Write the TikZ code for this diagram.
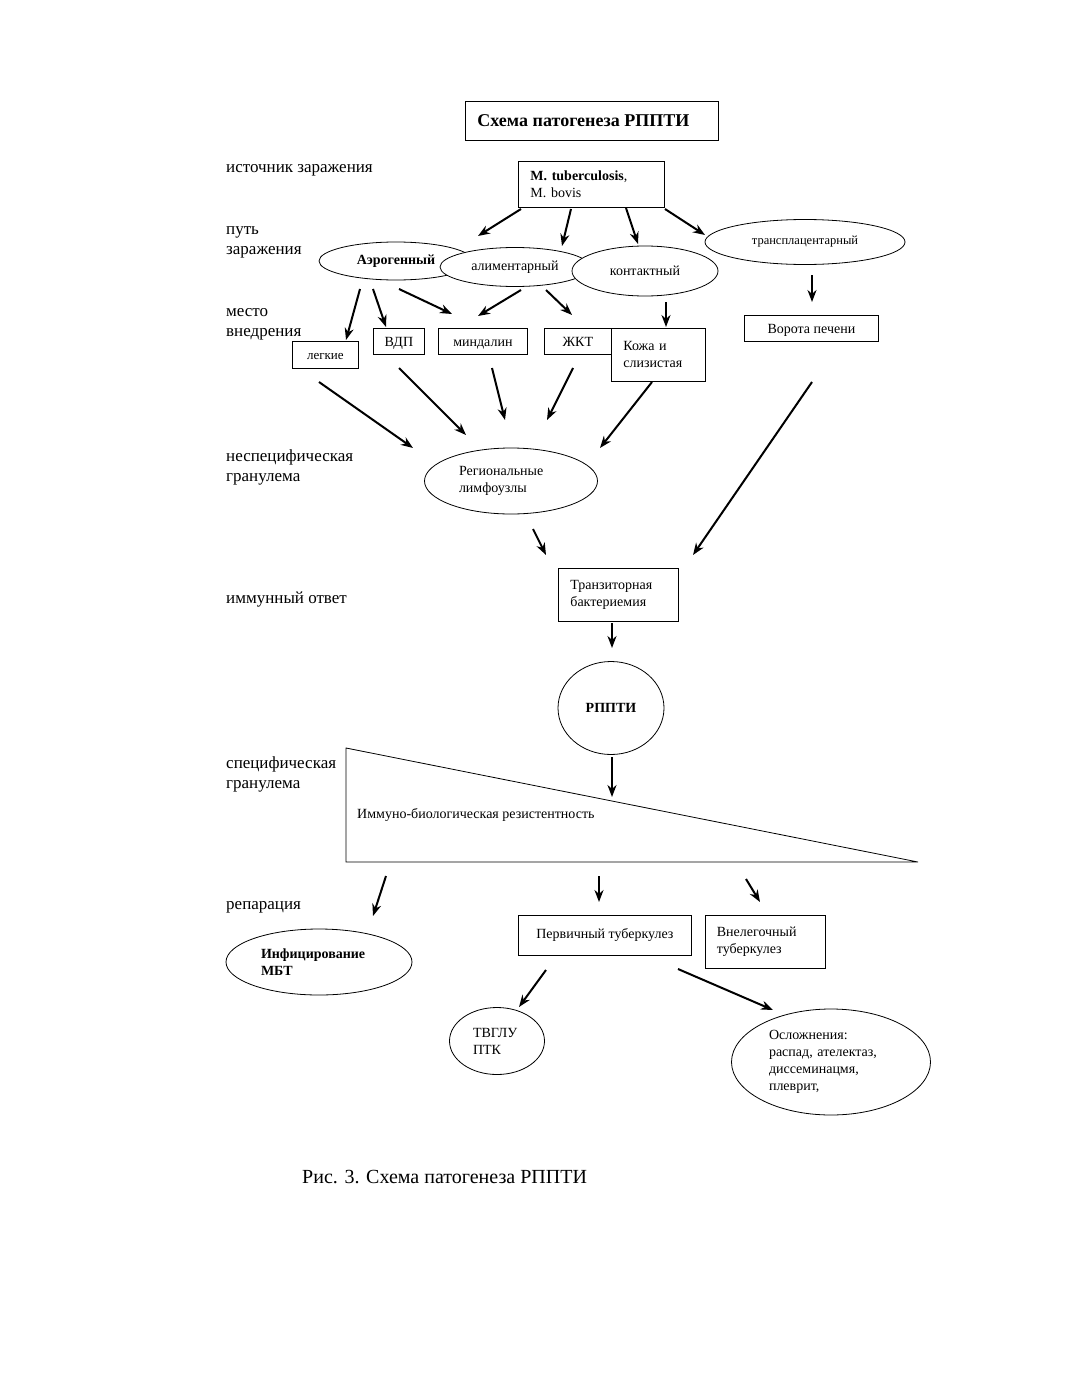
\documentclass[tikz,border=0pt]{standalone}
\usepackage{fontspec}
\setmainfont{Liberation Serif}
\usetikzlibrary{positioning, arrows, arrows.meta, shapes.geometric}
\newcommand{\pgnode}[4]{\node[#3, at={(#4)}] (#1) {#2};}
\newcommand{\pgarrow}[3]{\coordinate (#1s) at (#2); \coordinate (#1e) at (#3); \draw [pgedge] (#1s) -- (#1e);}
\newcommand{\lblfont}{\fontsize{17}{20}\selectfont}
\newcommand{\boxfont}{\fontsize{14}{17}\selectfont}

\begin{document}
\begin{tikzpicture}[x=1pt, y=-1pt,
  pgedge/.style={->, >={Stealth[length=12pt, width=9pt]}, line width=2pt},
  lbl/.style={anchor=west, inner sep=0pt, align=left, font=\lblfont},
  pgbox/.style={draw, line width=0.8pt, fill=white, anchor=north west, inner sep=0pt, align=left, font=\boxfont},
  onebox/.style={pgbox, text height=10pt, text depth=0pt},
  pgell/.style={draw, ellipse, line width=0.8pt, fill=white, inner sep=0pt, align=left, font=\boxfont}]
\useasboundingbox (0,0) rectangle (1071,1386);

% row labels on the left
\pgnode{lsrc}{источник заражения}{lbl}{226,170};
\pgnode{lway}{путь\\заражения}{lbl}{226,242};
\pgnode{lplace}{место\\внедрения}{lbl}{226,324};
\pgnode{lnonsp}{неспецифическая\\гранулема}{lbl}{226,467};
\pgnode{limm}{иммунный ответ}{lbl}{226,600};
\pgnode{lspec}{специфическая\\гранулема}{lbl}{226,774};
\pgnode{lrep}{репарация}{lbl}{226,907};

% title and source
\pgnode{title}{\fontsize{18}{21}\selectfont\bfseries Схема патогенеза РППТИ}{pgbox, text width=229, inner xsep=12, minimum width=253, minimum height=39}{465,101};
\pgnode{src}{\textbf{M. tuberculosis}, \\M. bovis}{pgbox, text width=122, minimum width=146, minimum height=46, inner xsep=12}{518,161};

% ways of infection
\pgnode{aer}{\bfseries Аэрогенный}{pgell, minimum width=154, minimum height=38}{396,261};
\pgnode{alim}{алиментарный}{pgell, minimum width=150, minimum height=39}{515,267};
\pgnode{kont}{контактный}{pgell, minimum width=146, minimum height=50}{645,271};
\pgnode{transpl}{\fontsize{12.5}{15}\selectfont трансплацентарный}{pgell, minimum width=200, minimum height=45}{805,242};

\pgarrow{a1}{521,209}{478,236};
\pgarrow{a2}{571,209}{562,246};
\pgarrow{a3}{626,208}{638,244};
\pgarrow{a4}{665,209}{705,235};

% places of entry
\pgnode{vorota}{Ворота печени}{onebox, minimum width=134, minimum height=26}{744,315};
\pgnode{legk}{\fontsize{13}{16}\selectfont легкие}{onebox, minimum width=66, minimum height=27}{292,341};
\pgnode{vdp}{ВДП}{onebox, minimum width=51, minimum height=26}{373,328};
\pgnode{mind}{миндалин}{onebox, minimum width=89, minimum height=26}{438,328};
\pgnode{zhkt}{ЖКТ}{onebox, minimum width=67, minimum height=26}{544,328};
\pgnode{kozha}{Кожа и\\слизистая}{pgbox, text width=70, minimum width=94, minimum height=53, inner xsep=12}{611,328};

\pgarrow{b1}{812,275}{812,302};
\pgarrow{b2}{360,289}{346,340};
\pgarrow{b3}{373,289}{386,327};
\pgarrow{b4}{399,289}{452,314};
\pgarrow{b5}{521,290}{478,316};
\pgarrow{b6}{546,290}{572,315};
\pgarrow{b7}{666,302}{666,327};

% regional lymph nodes
\pgnode{lymph}{Региональные\\лимфоузлы}{pgell, text width=104, minimum width=173, minimum height=66}{511,481};

\pgarrow{c1}{319,382}{413,448};
\pgarrow{c2}{399,368}{466,435};
\pgarrow{c3}{492,368}{505,420};
\pgarrow{c4}{573,368}{547,420};
\pgarrow{c5}{652,382}{600,448};
\pgarrow{c6}{812,382}{693,555};
\pgarrow{c7}{533,529}{546,555};

% bacteriemia and RPPTI
\pgnode{bakt}{Транзиторная\\бактериемия}{pgbox, text width=96, minimum width=120, minimum height=53, inner xsep=12}{558,568};
\pgnode{rppti}{\bfseries РППТИ}{pgell, minimum width=106, minimum height=93}{611,708};

\pgarrow{d1}{612,623}{612,648};
\pgarrow{d2}{612,757}{612,797};

% resistance wedge
\draw [line width=0.8pt] (346,748) -- (346,862) -- (918,862) -- cycle;
\pgnode{resist}{Иммуно-биологическая резистентность}{anchor=west, inner sep=0pt, font=\boxfont}{357,815};

% outcomes
\pgnode{perv}{Первичный туберкулез}{pgbox, minimum width=173, minimum height=40}{518,915};
\pgnode{vneleg}{Внелегочный\\туберкулез}{pgbox, text width=97, minimum width=120, minimum height=53, inner xsep=11}{705,915};
\pgnode{infic}{\bfseries Инфицирование\\\bfseries МБТ}{pgell, text width=116, minimum width=186, minimum height=66}{319,962};
\pgnode{tvglu}{ТВГЛУ\\ПТК}{pgell, text width=48, minimum width=95, minimum height=67}{497,1041};
\pgnode{oslozh}{Осложнения:\\распад, ателектаз,\\диссеминацмя,\\плеврит,}{pgell, text width=124, minimum width=199, minimum height=106}{831,1062};

\pgarrow{e1}{386,876}{373,916};
\pgarrow{e2}{599,876}{599,902};
\pgarrow{e3}{746,879}{760,902};
\pgarrow{e4}{546,970}{519,1007};
\pgarrow{e5}{678,969}{773,1010};

% caption
\pgnode{caption}{Рис. 3. Схема патогенеза РППТИ}{anchor=west, inner sep=0pt, font=\fontsize{20}{24}\selectfont}{302,1177};
\end{tikzpicture}
\end{document}
